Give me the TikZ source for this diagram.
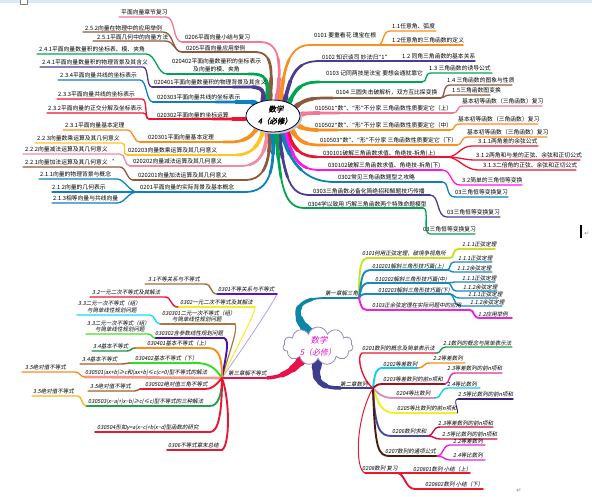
\documentclass[tikz,border=0pt]{standalone}
\usepackage{fontspec}
\newfontfamily\cjk{Noto Sans CJK SC}
\newfontfamily\cjkit[FakeSlant=0.2]{Noto Sans CJK SC}
\newfontfamily\cjkbi[FakeSlant=0.2,FakeBold=2]{Noto Sans CJK SC}
\newfontfamily\dvs{DejaVu Sans}
\usetikzlibrary{shapes.symbols,shapes.geometric}
% top colours
\definecolor{cPink}{RGB}{242,120,150}
\definecolor{cBrown}{RGB}{140,90,60}
\definecolor{cGreen}{RGB}{0,165,80}
\definecolor{cPurple}{RGB}{75,60,145}
\definecolor{cBlue}{RGB}{12,128,192}
\definecolor{cRed}{RGB}{236,20,50}
\definecolor{cOrange}{RGB}{247,144,30}
\definecolor{cYellow}{RGB}{255,196,37}
\definecolor{cLPink}{RGB}{242,140,160}
\definecolor{cMag}{RGB}{255,20,240}
\definecolor{cTeal}{RGB}{10,130,180}
% bottom colours
\definecolor{bTeal}{RGB}{12,134,168}
\definecolor{bIndigo}{RGB}{62,62,145}
\definecolor{bCrimson}{RGB}{232,18,74}
\definecolor{bYG}{RGB}{205,225,35}
\definecolor{bBlue}{RGB}{25,138,192}
\definecolor{bMag}{RGB}{238,34,221}
\definecolor{bRed}{RGB}{232,24,50}
\definecolor{bGreen}{RGB}{34,160,80}
\definecolor{bCyan}{RGB}{16,208,240}
\definecolor{bOrange}{RGB}{245,144,32}
\definecolor{bDRed}{RGB}{165,16,32}
\definecolor{bPinkM}{RGB}{224,48,154}
\definecolor{bMauve}{RGB}{216,144,184}
\definecolor{bYellow}{RGB}{242,240,32}
\definecolor{bViolet}{RGB}{60,32,128}
\definecolor{bInd2}{RGB}{72,72,168}
\definecolor{bCrim2}{RGB}{200,16,64}
\definecolor{bDBrown}{RGB}{80,26,8}
\definecolor{bLav}{RGB}{168,152,240}
\definecolor{bPurp}{RGB}{90,16,208}
\definecolor{bBrown}{RGB}{160,112,58}
\definecolor{bTan}{RGB}{168,122,64}
\definecolor{bCyanB}{RGB}{16,224,240}
\definecolor{bPurpB}{RGB}{80,16,160}
\definecolor{bLGreen}{RGB}{68,224,34}
\definecolor{bDGreen}{RGB}{32,144,64}
\definecolor{bBGreen}{RGB}{48,224,32}
\definecolor{bBrownB}{RGB}{160,96,42}
\definecolor{bSalmon}{RGB}{248,152,136}
\definecolor{bGold}{RGB}{244,184,32}
\definecolor{cloudMag}{RGB}{224,16,200}
\definecolor{cloudLine}{RGB}{150,138,200}
\definecolor{topband}{RGB}{221,232,245}

\newcommand\tapA[2]{%
 \draw[#1,line width=1.8pt,line cap=round] #2;
 \draw[#1,line width=2.7pt,line cap=round,dash pattern=on 50pt off 3000pt] #2;
 \draw[#1,line width=3.7pt,line cap=round,dash pattern=on 30pt off 3000pt] #2;
 \draw[#1,line width=4.9pt,line cap=round,dash pattern=on 14pt off 3000pt] #2;}
\newcommand\tapB[2]{%
 \draw[#1,line width=1.8pt,line cap=round] #2;
 \draw[#1,line width=3.5pt,line cap=round,dash pattern=on 45pt off 3000pt] #2;
 \draw[#1,line width=5.5pt,line cap=round,dash pattern=on 30pt off 3000pt] #2;
 \draw[#1,line width=7.5pt,line cap=round,dash pattern=on 18pt off 3000pt] #2;
 \draw[#1,line width=9.5pt,line cap=round,dash pattern=on 8pt off 3000pt] #2;}
\newcommand\tlab[4]{\node[tl] (#1) at (#2,#3) {#4};}
\newcommand\blab[4]{\node[bl] (#1) at (#2,#3) {#4};}
\newcommand\qop{{\dvs“}}
\newcommand\qcl{{\dvs”}}

\begin{document}
\begin{tikzpicture}[x=1pt,y=-1pt,
  tl/.style={font=\cjk\fontsize{5.8}{7}\selectfont,inner sep=0pt,anchor=base west},
  bl/.style={font=\cjkit\fontsize{5.5}{7}\selectfont,inner sep=0pt,anchor=base west},
  sub/.style={line width=1.3pt,line cap=round},
  bsub/.style={line width=1.4pt,line cap=round},
  bmain/.style={line width=1.9pt,line cap=round}]
\useasboundingbox (0,0) rectangle (592,496);
\fill[white] (0,0) rectangle (592,496);
\fill[topband] (0,0) rectangle (592,2.5);
\draw[gray,fill=white,line width=0.5pt] (20,-1) rectangle (27,4);

% ================= TOP MAP: left branches =================
\tapA{cPink}{(276,108) .. controls (281,70) and (283,42) .. (260,42) -- (182,42)}
\draw[cPink,sub] (182,42) .. controls (172,42) and (176,17) .. (166,17) -- (119,17);
\tapA{cBrown}{(269,108) .. controls (272,75) and (275,52) .. (255,52) -- (182,52)}
\draw[cBrown,sub] (182,52) .. controls (172,52) and (174,32) .. (163,32) -- (83,32);
\draw[cBrown,sub] (182,52) .. controls (174,52) and (175,41) .. (165,41) -- (93,41);
\tapA{cGreen}{(265,110) .. controls (268,88) and (272,74) .. (252,74) -- (167,74)}
\draw[cGreen,sub] (167,74) .. controls (157,74) and (156,54) .. (146,54) -- (37,54);
\tapA{cPurple}{(262,110) .. controls (263,95) and (268,87) .. (250,87) -- (152,87)}
\draw[cPurple,sub] (152,87) .. controls (146,87) and (149,67) .. (143,67) -- (40,67);
\tapA{cBlue}{(258,112) .. controls (258,106) and (260,102) .. (248,102) -- (153,102)}
\draw[cBlue,sub] (153,102) .. controls (146,102) and (147,80) .. (140,80) -- (58,80);
\tapA{cRed}{(262,116) .. controls (255,118) and (250,119) .. (240,119) -- (149,119)}
\draw[cRed,sub] (149,119) .. controls (144,119) and (148,99) .. (142,99) -- (57,99);
\draw[cRed,sub] (149,119) .. controls (145,119) and (148,113) .. (143,113) -- (47,113);
\tapA{cOrange}{(262,118) .. controls (256,132) and (250,142) .. (230,142) -- (140,142)}
\draw[cOrange,sub] (140,142) .. controls (133,142) and (134,130) .. (127,130) -- (63,130);
\tapA{cYellow}{(265,120) .. controls (262,140) and (256,155) .. (235,155) -- (127,155)}
\draw[cYellow,sub] (127,155) .. controls (121,155) and (128,143) .. (122,143) -- (35,143);
\tapA{cLPink}{(268,122) .. controls (267,150) and (262,166) .. (240,166) -- (130,166)}
\draw[cLPink,sub] (130,166) .. controls (124,166) and (126,154) .. (120,154) -- (23,154);
\tapA{cBrown}{(270,122) .. controls (271,160) and (266,180) .. (245,180) -- (133,180)}
\draw[cBrown,sub] (133,180) .. controls (127,180) and (126,167) .. (120,167) -- (23,167);
\tapA{cBlue}{(272,124) .. controls (276,170) and (270,192) .. (245,192) -- (137,192)}
\draw[cBlue,sub] (137,192) .. controls (130,192) and (124,179) .. (117,179) -- (39,179);
\draw[cBlue,sub] (137,192) -- (52,192);
\draw[cBlue,sub] (137,192) .. controls (128,192) and (125,203) .. (117,203) -- (52,203);

% ================= TOP MAP: right branches =================
\tapA{cOrange}{(280,108) .. controls (283,70) and (288,45) .. (310,45) -- (463,45)}
\draw[cOrange,sub] (378,45) .. controls (384,45) and (382,31) .. (390,31) -- (436,31);
\tapA{cPurple}{(283,110) .. controls (290,75) and (295,61) .. (320,61) -- (475,61)}
\tapA{cGreen}{(285,112) .. controls (295,88) and (300,82) .. (320,82) -- (422,82)}
\draw[cGreen,sub] (422,82) .. controls (428,82) and (424,73) .. (431,73) -- (492,73);
\tapA{cBrown}{(288,114) .. controls (300,102) and (305,98) .. (325,98) -- (440,98)}
\draw[cBrown,sub] (440,98) .. controls (446,98) and (442,85) .. (450,85) -- (512,85);
\draw[cBrown,sub] (440,98) .. controls (445,98) and (444,95) .. (450,95) -- (490,95);
\tapA{cPink}{(290,117) .. controls (300,114) and (305,113) .. (320,113) -- (453,113)}
\draw[cPink,sub] (453,113) .. controls (459,113) and (456,106) .. (463,106) -- (542,106);
\tapA{cOrange}{(290,120) .. controls (300,128) and (305,130) .. (320,130) -- (450,130)}
\draw[cOrange,sub] (450,130) .. controls (456,130) and (452,124) .. (460,124) -- (538,124);
\tapA{cOrange}{(288,122) .. controls (296,140) and (302,145) .. (320,145) -- (457,145)}
\draw[cOrange,sub] (457,145) .. controls (463,145) and (460,137) .. (468,137) -- (547,137);
\tapA{cRed}{(285,124) .. controls (292,150) and (300,157) .. (320,157) -- (447,157)}
\draw[cRed,sub] (447,157) .. controls (458,157) and (460,146) .. (472,146) -- (538,146);
\draw[cRed,sub] (447,157) .. controls (458,157) and (465,160) .. (475,160) -- (580,160);
\draw[cRed,sub] (447,157) .. controls (458,157) and (465,170) .. (478,170) -- (576,170);
\tapA{cMag}{(283,126) .. controls (292,160) and (300,170) .. (320,170) -- (442,170)}
\draw[cMag,sub] (442,170) .. controls (452,170) and (450,185) .. (460,185) -- (522,185);
\tapA{cTeal}{(280,126) .. controls (290,170) and (310,182) .. (335,182) -- (442,182)}
\draw[cTeal,sub] (442,182) .. controls (450,182) and (445,197) .. (455,197) -- (508,197);
\tapA{cPurple}{(278,128) .. controls (285,180) and (290,195) .. (310,195) -- (430,195)}
\draw[cPurple,sub] (430,195) .. controls (440,195) and (436,217) .. (447,217) -- (500,217);
\tapA{cGreen}{(276,128) .. controls (280,190) and (285,208) .. (305,208) -- (423,208)}
\draw[cGreen,sub] (423,208) .. controls (430,208) and (422,234) .. (430,234) -- (475,234);

% centre ellipse
\fill[gray!45] (275,118) ellipse [x radius=27pt, y radius=16pt];
\node[ellipse,draw=black!75!blue,line width=0.8pt,fill=white,minimum width=54pt,minimum height=32pt,inner sep=0pt] (c4) at (273,116) {};
\node[font=\cjkbi\fontsize{7.5}{8}\selectfont,inner sep=0pt] (c4a) at (276,109) {数学};
\node[font=\cjkbi\fontsize{7.5}{8}\selectfont,inner sep=0pt] (c4b) at (275,121) {4（必修）};

% top labels left
\tlab{l1}{185}{39}{0206平面向量小结与复习}
\tlab{l1a}{121}{14.2}{平面向量章节复习}
\tlab{l2}{186}{50.2}{0205平面向量应用举例}
\tlab{l2a}{85}{30.5}{2.5.2向量在物理中的应用举例}
\tlab{l2b}{97}{39.5}{2.5.1平面几何中的向量方法}
\tlab{l3}{172}{63.2}{020402平面向量数量积的坐标表示}
\tlab{l3x}{193}{71}{及向量的模、夹角}
\tlab{l3a}{39}{51.5}{2.4.1平面向量数量积的坐标表、模、夹角}
\tlab{l4}{154}{84}{020401平面向量数量积的物理背景及其含义}
\tlab{l4a}{42}{64}{2.4.1平面向量数量积的物理背景及其含义}
\tlab{l5}{157}{99.5}{020303平面向量共线的坐标表示}
\tlab{l5a}{60}{77.2}{2.3.4平面向量共线的坐标表示}
\tlab{l6}{157}{117}{020302平面向量的坐标运算}
\tlab{l6a}{58}{96.2}{2.3.3平面向量共线的坐标表示}
\tlab{l6b}{48}{110}{2.3.2平面向量的正交分解及坐标表示}
\tlab{l7}{148}{139.5}{020301平面向量基本定理}
\tlab{l7a}{65}{127.2}{2.3.1平面向量基本定理}
\tlab{l8}{128}{152.9}{020203向量数乘运算及其几何意义}
\tlab{l8a}{37}{140.5}{2.2.3向量数乘运算及其几何意义}
\tlab{l9}{133}{163.9}{020202向量减法运算及其几何意义}
\tlab{l9a}{25}{151.5}{2.2.2向量减法运算及其几何意义}
\tlab{l10}{138}{177.2}{020201向量加法运算及其几何意义}
\tlab{l10a}{25}{164.5}{2.2.1向量加法运算及其几何意义\ \ \raisebox{2pt}{·}}
\tlab{l11}{140}{189.5}{0201平面向量的实际背景及基本概念}
\tlab{l11a}{40}{176}{2.1.1向量的物理背景与概念}
\tlab{l11b}{52}{189}{2.1.2向量的几何表示}
\tlab{l11c}{53}{200.5}{2.1.3相等向量与共线向量}

% top labels right
\tlab{r1}{314}{37}{0101 要重看花 瑰宝在根}
\tlab{r1a}{392}{28.5}{1.1任意角、弧度}
\tlab{r1b}{392}{42.8}{1.2任意角的三角函数的定义}
\tlab{r2}{322}{59}{0102 知识谈司 妙法归\qop 1\qcl}
\tlab{r2a}{402}{58.5}{1.2 同角三角函数的基本关系}
\tlab{r3}{326}{75}{0103 记同两技是法宝 要想会通就靠它}
\tlab{r3a}{429}{70.5}{1.3 三角函数的诱导公式}
\tlab{r4}{336}{94.5}{0104 三圆失击破解析，双方互比探变换}
\tlab{r4a}{447}{82.5}{1.4 三角函数的图象与性质}
\tlab{r4b}{452}{92.8}{1.5三角函数图变换}
\tlab{r5}{315}{110.5}{010501\qop 数\qcl 、\qop 形\qcl 不分家 三角函数性质要定它（上）}
\tlab{r5a}{462}{103.5}{基本初等函数（三角函数）复习}
\tlab{r6}{315}{127.9}{010502\qop 数\qcl 、\qop 形\qcl 不分家 三角函数性质要定它（中）}
\tlab{r6a}{458}{121.5}{基本初等函数（三角函数）复习}
\tlab{r7}{320}{142}{010503\qop 数\qcl 、\qop 形\qcl 不分家 三角函数性质要定它（下）}
\tlab{r7a}{467}{134.5}{基本初等函数（三角函数）复习}
\tlab{r8}{323}{155}{030101破解三角函数求值、角绝技-拆角(上)}
\tlab{r8a}{478}{143.9}{3.1.1两角差的余弦公式}
\tlab{r8b}{476}{157.5}{3.1.2两角和与差的正弦、余弦和正切公式}
\tlab{r8c}{483}{167.5}{3.1.3二倍角的正弦、余弦和正切公式}
\tlab{r9}{328}{167.5}{030102破解三角函数求值、角绝技-拆角(下)}
\tlab{r9a}{462}{182.5}{3.2简单的三角恒等变换}
\tlab{r10}{338}{179.5}{0302常见三角函数题型之攻略}
\tlab{r10a}{455}{194.5}{03三角恒等变换复习}
\tlab{r11}{313}{193}{0303三角函数必备化简绝招和解题技巧传播}
\tlab{r11a}{447}{214}{03三角恒等变换复习}
\tlab{r12}{308}{206}{0304学以致用 巧解三角函数两个特殊命题模型}
\tlab{r12a}{423}{231.5}{03三角恒等变换复习}

% cursor and paragraph marks
\draw[black,line width=1.2pt] (581,225) -- (581,238);
\node[font=\dvs\fontsize{6}{6}\selectfont,text=gray,inner sep=0pt] (pm1) at (587,234) {↵};
\node[font=\dvs\fontsize{6}{6}\selectfont,text=gray,inner sep=0pt] (pm2) at (519,491) {↵};

% ================= BOTTOM MAP =================
% chapter 1
\tapB{bTeal}{(310,333) .. controls (290,315) and (295,298) .. (325,298) -- (359,298)}
\coordinate (F1) at (359,298);
\draw[bYG,bmain] (F1) .. controls (359,270) and (360,258) .. (368,258) -- (450,258) .. controls (455,258) and (452,249) .. (458,249) -- (495,249);
\draw[bBlue,bmain] (F1) .. controls (362,275) and (362,270) .. (372,270) -- (447,270);
\draw[bBlue,bsub] (447,270) .. controls (451,270) and (449,262) .. (454,262) -- (492,262);
\draw[bBlue,bsub] (447,270) .. controls (451,270) and (450,272) .. (454,272) -- (492,272);
\draw[bBlue,bmain] (F1) .. controls (362,286) and (362,283) .. (370,283) -- (448,283);
\draw[bBlue,bsub] (448,283) .. controls (452,283) and (451,282) .. (455,282) -- (495,282);
\draw[bBlue,bsub] (448,283) .. controls (452,283) and (451,291) .. (456,291) -- (497,291);
\draw[bBlue,bmain] (F1) .. controls (362,294) .. (370,294) -- (450,294);
\draw[bBlue,bsub] (450,294) .. controls (454,294) and (454,298) .. (459,298) -- (498,298);
\draw[bBlue,bsub] (450,294) .. controls (454,294) and (454,306) .. (460,306) -- (502,306);
\draw[bMag,bmain] (F1) .. controls (362,310) .. (372,310) -- (470,310) .. controls (475,310) and (472,318) .. (480,318) -- (512,318);
\fill[bMag] (F1) circle (1.6pt);

% chapter 2
\tapB{bIndigo}{(318,360) .. controls (312,382) and (322,388) .. (340,388) -- (373,388)}
\coordinate (F2) at (373,388);
\draw[bRed,bsub] (F2) .. controls (362,380) and (356,356) .. (362,353) -- (437,353);
\draw[bGreen,bsub] (437,353) .. controls (441,353) and (440,347) .. (446,347) -- (512,347);
\draw[bCyan,bmain] (F2) .. controls (375,372) and (376,368) .. (383,368) -- (418,368);
\draw[bOrange,bsub] (418,368) .. controls (424,368) and (423,363) .. (430,363) -- (465,363);
\draw[bDRed,bmain] (F2) .. controls (378,384) .. (385,384) -- (445,384);
\draw[bPinkM,bsub] (445,384) .. controls (450,384) and (448,373) .. (455,373) -- (502,373);
\draw[bMauve,bmain] (F2) .. controls (380,396) and (385,398) .. (395,398) -- (435,398);
\draw[bCyan,bsub] (435,398) .. controls (442,398) and (440,388) .. (448,388) -- (480,388);
\draw[bYellow,bmain] (F2) .. controls (380,410) and (385,413) .. (397,413) -- (457,413);
\draw[bViolet,line width=0.8pt] (457,413) .. controls (460,413) and (452,399) .. (458,399);
\draw[bViolet,bsub] (458,399) -- (513,399);
\draw[bInd2,bmain] (F2) .. controls (375,430) and (380,436) .. (392,436) -- (428,436);
\draw[bCrim2,bsub] (428,436) .. controls (434,436) and (432,427) .. (440,427) -- (493,427);
\draw[bCrim2,bsub] (428,436) .. controls (434,436) and (434,439) .. (440,439) -- (497,439);
\draw[bDBrown,bmain] (F2) .. controls (375,450) and (378,456) .. (390,456) -- (437,456);
\draw[bMag,bsub] (437,456) .. controls (444,456) and (442,445) .. (450,445) -- (485,445);
\draw[bMag,bsub] (437,456) .. controls (444,456) and (444,460) .. (450,460) -- (485,460);
\draw[bRed,line width=1pt] (F2) .. controls (355,420) and (355,470) .. (365,473);
\draw[bRed,bmain] (365,473) -- (470,473);
\draw[bRed,bmain] (397,473) .. controls (405,473) and (405,489) .. (415,489) -- (483,489);

% chapter 3
\tapB{bCrimson}{(305,356) .. controls (292,372) and (282,378) .. (262,378) -- (222,378)}
\coordinate (F3) at (222,378);
\draw[bLav,line width=0.7pt] (F3) .. controls (245,345) and (272,305) .. (277,294);
\draw[bPurp,bmain] (277,294) -- (217,294);
\draw[bBrown,bsub] (217,294) .. controls (210,294) and (212,284) .. (205,284) -- (145,284);
\draw[bYellow,line width=1pt] (F3) .. controls (235,350) and (255,315) .. (255,307);
\draw[bYellow,bmain] (255,307) -- (178,307);
\draw[bRed,bsub] (178,307) .. controls (170,307) and (172,297) .. (165,297) -- (90,297);
\draw[bTan,line width=1.2pt] (F3) .. controls (230,350) and (238,330) .. (235,324);
\draw[bTan,bmain] (235,324) -- (160,324);
\draw[bCyanB,bsub] (160,324) .. controls (155,324) and (155,315) .. (150,315) -- (77,315);
\draw[bPurpB,bmain] (F3) .. controls (226,355) and (230,340) .. (224,338) -- (155,338);
\draw[bLGreen,bsub] (155,338) .. controls (152,338) and (152,334) .. (148,334) -- (86,334);
\draw[bOrange,bmain] (F3) .. controls (222,360) and (220,348) .. (208,348) -- (135,348);
\draw[bDGreen,bsub] (135,348) .. controls (131,348) and (131,351) .. (127,351) -- (92,351);
\draw[bBGreen,bmain] (F3) .. controls (215,368) and (210,363) .. (195,363) -- (130,363);
\draw[bBrownB,bsub] (130,363) .. controls (126,363) and (126,364) .. (122,364) -- (80,364);
\draw[bSalmon,line width=2.6pt,line cap=round] (F3) -- (85,377);
\draw[bOrange,bsub] (85,377) .. controls (80,377) and (80,372) .. (75,372) -- (22,372);
\draw[bRed,bmain] (F3) .. controls (215,386) and (212,389) .. (205,389) -- (140,389);
\draw[bBrownB,bsub] (140,389) .. controls (138,389) and (138,391) .. (135,391) -- (88,391);
\draw[bGreen,bmain] (F3) .. controls (222,395) and (218,406) .. (210,406) -- (86,406);
\draw[bGold,bsub] (86,406) .. controls (82,406) and (82,396) .. (78,396) -- (32,396);
\draw[bRed,bmain] (F3) .. controls (222,415) and (218,432) .. (210,432) -- (95,432);
\draw[bRed,bmain] (F3) .. controls (230,400) and (230,445) .. (222,450) -- (167,450);

% cloud
\node[cloud,cloud puffs=11,aspect=2.1,draw=cloudLine,line width=0.8pt,fill=white,minimum width=70pt,minimum height=38pt,inner sep=0pt] (c5) at (318,346) {};
\node[font=\cjkit\fontsize{8.5}{9}\selectfont,text=cloudMag,inner sep=0pt] (c5a) at (319,340) {数学};
\node[font=\cjkit\fontsize{8}{9}\selectfont,text=cloudMag,inner sep=0pt] (c5b) at (318,352) {5（必修）};

% bottom labels
\blab{k1}{325}{295}{第一章解三角}
\blab{k1a}{362}{255}{0101何用正弦定理，破境争视角所}
\blab{k1a1}{462}{246}{1.1.1正弦定理}
\blab{k1b}{372}{268.5}{010201解斜三角形技巧篇(上)}
\blab{k1b1}{458}{260}{1.1.1正弦定理}
\blab{k1b2}{457}{270}{1.1.2余弦定理}
\blab{k1c}{375}{281}{010202解斜三角形技巧篇(中)}
\blab{k1c1}{462}{280}{1.1.1正弦定理}
\blab{k1c2}{463}{289.5}{1.1.2余弦定理}
\blab{k1d}{378}{292}{010203解斜三角形技巧篇(下)}
\blab{k1d1}{468}{296.5}{1.1.1正弦定理}
\blab{k1d2}{470}{304}{1.1.2余弦定理}
\blab{k1e}{372}{307.5}{0103正余弦定理在实际问题中的应用}
\blab{k1e1}{478}{316}{1.2应用举例}

\blab{k2}{340}{386}{第二章数列}
\blab{k2a}{362}{350.5}{0201数列的概念及简单表示法}
\blab{k2a1}{443}{345}{2.1数列的概念与简单表示法}
\blab{k2b}{383}{366}{0202等差数列}
\blab{k2b1}{433}{360.5}{2.2等差数列}
\blab{k2c}{383}{381.5}{0203等差数列的前n项和}
\blab{k2c1}{447}{370.5}{2.3等差数列的前n项和}
\blab{k2d}{396}{395.5}{0204等比数列}
\blab{k2d1}{447}{386}{2.4等比数列}
\blab{k2e}{397}{410.5}{0205等比数列的前n项和}
\blab{k2e1}{458}{396.5}{2.5等比数列的前n项和}
\blab{k2f}{392}{433.5}{0206数列求和}
\blab{k2f1}{438}{425}{2.3等差数列的前n项和}
\blab{k2f2}{442}{436.5}{2.5等比数列的前n项和}
\blab{k2g}{385}{453.5}{0207数列的通项公式}
\blab{k2g1}{453}{443}{2.2等差数列}
\blab{k2g2}{453}{457.5}{2.4等比数列}
\blab{k2h}{362}{470.5}{0208数列 复习}
\blab{k2h1}{413}{471}{020801数列 小结（上）}
\blab{k2h2}{425}{486.5}{020802数列 小结（下）}

\blab{k3}{228}{375.5}{第三章解不等式}
\blab{k3a}{218}{291}{0301不等关系与不等式}
\blab{k3a1}{148}{281}{3.1不等关系与不等式}
\blab{k3b}{180}{304}{0302一元二次不等式及其解法}
\blab{k3b1}{92}{294}{3.2一元二次不等式及其解法}
\blab{k3c}{162}{315}{030301二元一次不等式（组）}
\blab{k3cx}{172}{321.8}{与简单线性规划问题}
\blab{k3c1}{78}{305}{3.3二元一次不等式（组）}
\blab{k3c1x}{87}{312.3}{与简单线性规划问题}
\blab{k3d}{155}{335.5}{030302含参数线性规划问题}
\blab{k3d1}{87}{325}{3.3二元一次不等式（组）}
\blab{k3d1x}{95}{331.5}{与简单线性规划问题}
\blab{k3e}{147}{345.5}{030401基本不等式（上）}
\blab{k3e1}{93}{348.5}{3.4基本不等式}
\blab{k3f}{135}{360.5}{030402基本不等式（下）}
\blab{k3f1}{82}{361.5}{3.4基本不等式}
\blab{k3g}{85}{374.5}{030501|ax+b|≥c和|ax+b|≤c(c>0)型不等式的解法}
\blab{k3g1}{25}{369.5}{3.5绝对值不等式}
\blab{k3h}{145}{386.5}{030502绝对值三角不等式}
\blab{k3h1}{90}{388.5}{3.5绝对值不等式}
\blab{k3i}{88}{403.5}{030503|x−a|+|x−b|≥c(≤c)型不等式的三种解法}
\blab{k3i1}{33}{393.5}{3.5绝对值不等式}
\blab{k3j}{97}{429.5}{030504形如y=a|x−c|+b|x−d|型函数的研究}
\blab{k3k}{168}{447.5}{0306不等式章末总结}
\end{tikzpicture}
\end{document}
